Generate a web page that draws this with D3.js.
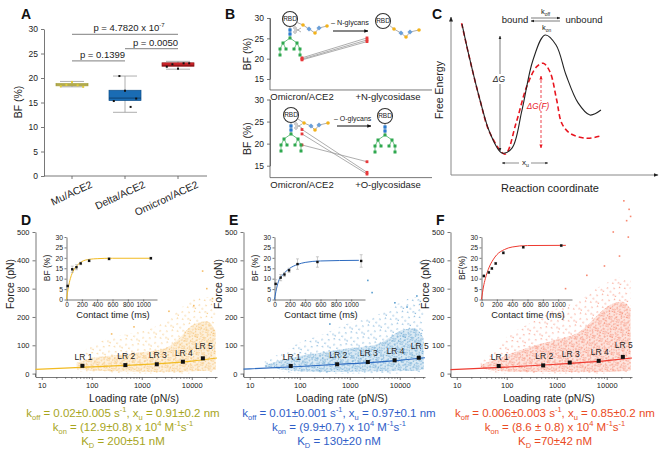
<!DOCTYPE html>
<html>
<head>
<meta charset="utf-8">
<script src="https://cdn.jsdelivr.net/npm/d3@7"></script>
<style>
  body { margin: 0; background: #fff; }
  text { font-family: "Liberation Sans", Arial, sans-serif; }
</style>
</head>
<body>
<div id="fig"></div>
<script>
// ---------- panel A data
var aCats = ["Mu/ACE2", "Delta/ACE2", "Omicron/ACE2"];
var aTicks = [0, 5, 10, 15, 20, 25, 30];
// [low whisker, q1, median, q3, high whisker]
var aBoxes = [[18.2, 18.4, 18.6, 18.9, 19.3], [13.0, 15.4, 15.9, 17.5, 20.4], [21.8, 22.4, 22.6, 23.1, 23.4]];
var aPoints = [[18.3, 18.6, 19.2, 18.5, 18.2], [15.3, 20.4, 17.4, 14.1, 15.8], [22.3, 22.8, 21.9, 23.0, 23.0]];
var aPvals = ["p = 0.1399", "p = 0.0050", "p = 4.7820 x 10"];
var aPvalLevels = [23.5, 26, 28.9];
var aPvalPairs = [[0, 1], [1, 2], [0, 2]];

// ---------- panel B data
var bTicks = [15, 20, 25, 30];
var bNGroups = ["Omicron/ACE2", "+N-glycosidase"];
var bNBefore = [20.2, 19.9, 19.7];
var bNAfter = [25.1, 24.6, 24.2];
var bOGroups = ["Omicron/ACE2", "+O-glycosidase"];
var bOBefore = [23.2, 22.2, 19.7];
var bOAfter = [13.5, 13.1, 15.9];

// ---------- panel C schematic curves (reaction coordinate, free energy; arbitrary units)
var cBlackX = [0.54, 0.93, 1.42, 1.91, 2.5, 2.99, 3.48, 4.02, 4.61, 5.15, 5.64, 6.23, 6.81, 7.35];
var cBlackY = [9.74, 7.42, 4.84, 2.71, 1.42, 1.74, 4.19, 7.42, 9.03, 8.39, 6.45, 4.65, 3.87, 4.19];
var cRedX = [0.52, 0.93, 1.42, 1.91, 2.65, 3.19, 3.71, 4.2, 4.52, 4.85, 5.18, 5.43, 5.83, 6.65, 7.34];
var cRedY = [9.79, 7.42, 4.84, 2.71, 1.35, 3.35, 5.7, 6.99, 7.21, 6.66, 4.84, 3.34, 2.69, 2.37, 2.52];

// ---------- panels D, E, F data
var lrNames = ["LR 1", "LR 2", "LR 3", "LR 4", "LR 5"];
var lrTicks = [10, 100, 1000, 10000];
var forceTicks = [0, 100, 200, 300, 400, 500];
var dLR = [65, 470, 2000, 6650, 16700];
var dForce = [27.5, 30, 33, 42, 54];
var eLR = [66, 560, 2300, 7900, 24000];
var eForce = [27, 33, 41, 47, 56];
var fLR = [69, 535, 1820, 6900, 21000];
var fForce = [27, 29, 39, 45, 59];

var fitLR = [7.5, 100, 1000, 10000, 32000];
var dFitF = [15, 24, 32, 44, 55];
var eFitF = [16, 25, 35, 47, 56];
var fFitF = [14, 23, 33, 46, 55];

// rupture force clouds: envelopes of the dense core and of the sparse halo
var dCloudLR = [50, 100, 300, 1000, 3000, 6000, 10000, 20000, 30000];
var dCoreLo = [18, 10, 8, 6, 6, 6, 8, 10, 14];
var dCoreHi = [38, 55, 65, 75, 90, 130, 170, 185, 150];
var dSparseLo = [12, 0, 0, 0, 0, 0, 0, 0, 5];
var dSparseHi = [60, 100, 130, 150, 185, 230, 260, 270, 260];
var dOutliers = [[16500, 362], [26000, 265], [11000, 240], [3500, 220], [700, 165], [250, 140], [20000, 300]];

var eCloudLR = [20, 40, 100, 300, 1000, 3000, 6000, 10000, 20000, 30000];
var eCoreLo = [25, 15, 8, 6, 6, 8, 8, 10, 10, 15];
var eCoreHi = [30, 45, 62, 75, 90, 100, 125, 150, 160, 125];
var eSparseLo = [15, 8, 0, 0, 0, 0, 0, 0, 0, 5];
var eSparseHi = [45, 70, 110, 140, 180, 200, 230, 250, 270, 260];
var eOutliers = [[26000, 392], [2300, 329], [2800, 286], [22000, 274], [14000, 235], [1100, 215], [400, 175], [8000, 250]];

var fCloudLR = [30, 50, 100, 300, 1000, 3000, 6000, 10000, 20000, 30000];
var fCoreLo = [20, 12, 8, 6, 6, 6, 6, 6, 8, 12];
var fCoreHi = [30, 45, 65, 95, 120, 150, 200, 235, 255, 230];
var fSparseLo = [12, 6, 0, 0, 0, 0, 0, 0, 0, 5];
var fSparseHi = [45, 70, 130, 180, 230, 260, 300, 320, 340, 330];
var fOutliers = [[13500, 500], [27000, 482], [18000, 415], [4000, 347], [22000, 610], [28000, 580],
                 [25000, 540], [30000, 555], [9000, 380], [1500, 300]];

// insets: binding frequency vs contact time
var insetTTicks = [0, 200, 400, 600, 800, 1000];
var insetBFTicks = [0, 5, 10, 15, 20, 25, 30];
var dT = [15, 75, 130, 185, 295, 555, 1100];
var dBF = [6.5, 14.5, 15.5, 17.3, 18.6, 19.5, 19.8];
var dErr = [0.8, 1.5, 1.2, 0.6, 0.5, 0.5, 0.5];
var eT = [15, 80, 130, 190, 300, 560, 1130];
var eBF = [7.5, 10.5, 12, 14, 17, 18, 18.5];
var eErr = [2, 1.5, 1, 1, 2.5, 2.5, 3];
var fT = [30, 95, 135, 185, 285, 545, 1040];
var fBF = [11.3, 13, 14.9, 17.3, 22.4, 25.1, 25.9];
var fErr = [0.6, 0.5, 0.5, 0.5, 0.6, 0.5, 0.5];
var fitT = [0, 25, 50, 100, 150, 200, 300, 400, 600, 1100];
var dFitBF = [0, 6, 10, 14.5, 16.8, 18.2, 19.3, 19.6, 19.8, 19.8];
var eFitBF = [0, 5, 8.5, 11.5, 13.5, 15, 16.8, 17.8, 18.5, 18.8];
var fFitBF = [0, 6, 10, 15.5, 19, 21.5, 24, 25.2, 25.9, 26];

var font = "'Liberation Sans', Arial, sans-serif";
var svg = d3.select("#fig").append("svg").attr("width", 666).attr("height", 460);
var defs = svg.append("defs");

function marker(id, color, size) {
  defs.append("marker").attr("id", id).attr("viewBox", "0 0 10 10")
    .attr("refX", 9).attr("refY", 5).attr("markerWidth", size).attr("markerHeight", size)
    .attr("orient", "auto-start-reverse")
    .append("path").attr("d", "M0,1 L10,5 L0,9 Z").attr("fill", color);
}
marker("arrK", "#222", 5);
marker("arrR", "#e8141e", 5);
marker("arrBig", "#111", 3.5);

function styleAxis(sel, size) {
  sel.selectAll("text").attr("font-size", size).attr("font-family", font).attr("fill", "#222");
  sel.selectAll("path,line").attr("stroke", "#555").attr("stroke-width", 0.8);
}

function richText(sel, parts, size) {
  var shift = 0;
  parts.forEach(function(p) {
    var t = sel.append("tspan").text(p[0]);
    var target = p[1] === "sub" ? size * 0.28 : p[1] === "sup" ? -size * 0.4 : 0;
    t.attr("dy", target - shift);
    shift = target;
    if (p[1]) t.attr("font-size", size * 0.65);
  });
}

function letter(txt, x, y) {
  svg.append("text").attr("x", x).attr("y", y).attr("font-size", 14).attr("font-weight", "bold")
    .attr("fill", "#111").text(txt);
}

// ================= A =================
letter("A", 21, 19);
var aX = d3.scalePoint().domain(aCats).range([72, 178]);
var aY = d3.scaleLinear().domain([0, 30]).range([176, 29]);
var gA = svg.append("g");
gA.append("g").attr("transform", "translate(44,0)")
  .call(d3.axisLeft(aY).tickValues(aTicks).tickSize(3).tickSizeOuter(0))
  .call(styleAxis, 8.5);
gA.append("line").attr("x1", 44).attr("x2", 207).attr("y1", 176).attr("y2", 176)
  .attr("stroke", "#555").attr("stroke-width", 0.8);
gA.selectAll(".ct").data(aCats).enter().append("line")
  .attr("x1", d => aX(d)).attr("x2", d => aX(d)).attr("y1", 176).attr("y2", 179)
  .attr("stroke", "#555").attr("stroke-width", 0.8);
gA.selectAll(".cl").data(aCats).enter().append("text")
  .attr("transform", d => "translate(" + (aX(d) + 21) + ",187) rotate(-25)")
  .attr("text-anchor", "end").attr("font-size", 10.3).attr("fill", "#222").text(d => d);
gA.append("text").attr("transform", "translate(22,102) rotate(-90)").attr("text-anchor", "middle")
  .attr("font-size", 10.5).attr("fill", "#222").text("BF (%)");

var aFill = ["#e4dc8c", "#1a6cb4", "#d8262c"];
var aStroke = ["#a39c3c", "#0e4f8a", "#8a1416"];
var aMed = ["#8c8620", "#0d3d6b", "#7a1012"];
var aDot = ["#e0cc3a", "#111", "#111"];
var boxW = 32;
aBoxes.forEach(function(b, i) {
  var cx = aX(aCats[i]);
  var g = gA.append("g");
  g.append("line").attr("x1", cx).attr("x2", cx).attr("y1", aY(b[0])).attr("y2", aY(b[4]))
    .attr("stroke", "#999").attr("stroke-width", 0.8);
  [b[0], b[4]].forEach(function(v) {
    g.append("line").attr("x1", cx - 12).attr("x2", cx + 12).attr("y1", aY(v)).attr("y2", aY(v))
      .attr("stroke", "#999").attr("stroke-width", 0.8);
  });
  g.append("rect").attr("x", cx - boxW / 2).attr("width", boxW)
    .attr("y", aY(b[3])).attr("height", aY(b[1]) - aY(b[3]))
    .attr("fill", aFill[i]).attr("stroke", aStroke[i]).attr("stroke-width", 0.7);
  g.append("line").attr("x1", cx - boxW / 2).attr("x2", cx + boxW / 2)
    .attr("y1", aY(b[2])).attr("y2", aY(b[2])).attr("stroke", aMed[i]).attr("stroke-width", 0.9);
  var n = aPoints[i].length;
  aPoints[i].forEach(function(v, j) {
    var px = cx - boxW * 0.35 + boxW * 0.7 * j / (n - 1);
    g.append("rect").attr("x", px - 1).attr("y", aY(v) - 1).attr("width", 2).attr("height", 2)
      .attr("fill", aDot[i]);
  });
});
aPvals.forEach(function(t, i) {
  var x1 = aX(aCats[aPvalPairs[i][0]]), x2 = aX(aCats[aPvalPairs[i][1]]);
  var yy = aY(aPvalLevels[i]);
  gA.append("line").attr("x1", x1).attr("x2", x2).attr("y1", yy).attr("y2", yy)
    .attr("stroke", "#999").attr("stroke-width", 1.1);
  var tx = gA.append("text").attr("x", (x1 + x2) / 2 + 4).attr("y", yy - 3)
    .attr("text-anchor", "middle").attr("font-size", 9.5).attr("fill", "#222").text(t);
  if (i === 2) tx.append("tspan").attr("dy", -4).attr("font-size", 6).text("-7");
});

// ================= B =================
letter("B", 225, 19);
function glycanTree(g, cx, cy) {
  // blue stem + green branched tree under an RBD circle
  var green = "#2fa84f", blue = "#2a7bd0";
  var nodes = [[cx, cy + 19], [cx - 7, cy + 24], [cx + 7, cy + 24], [cx - 10, cy + 30], [cx - 4, cy + 30],
               [cx + 4, cy + 30], [cx + 10, cy + 30], [cx - 10, cy + 36], [cx + 10, cy + 36]];
  var links = [[0, 1], [0, 2], [1, 3], [1, 4], [2, 5], [2, 6], [3, 7], [6, 8]];
  g.append("line").attr("x1", cx).attr("x2", cx).attr("y1", cy + 8).attr("y2", cy + 19)
    .attr("stroke", "#555").attr("stroke-width", 0.6);
  links.forEach(function(l) {
    g.append("line").attr("x1", nodes[l[0]][0]).attr("y1", nodes[l[0]][1])
      .attr("x2", nodes[l[1]][0]).attr("y2", nodes[l[1]][1]).attr("stroke", green).attr("stroke-width", 0.7);
  });
  [cy + 11, cy + 15].forEach(function(yy) {
    g.append("rect").attr("x", cx - 1.6).attr("y", yy - 1.6).attr("width", 3.2).attr("height", 3.2).attr("fill", blue);
  });
  nodes.forEach(function(n) {
    g.append("rect").attr("x", n[0] - 1.5).attr("y", n[1] - 1.5).attr("width", 3).attr("height", 3).attr("fill", green);
  });
}
function glycanChain(g, pts) {
  var line = d3.line();
  g.append("path").attr("d", line(pts)).attr("fill", "none").attr("stroke", "#777").attr("stroke-width", 0.6);
  pts.slice(1).forEach(function(p, i) {
    if (i % 2 === 0) {
      g.append("circle").attr("cx", p[0]).attr("cy", p[1]).attr("r", 1.8).attr("fill", "#f2b21b");
    } else {
      g.append("rect").attr("x", p[0] - 1.8).attr("y", p[1] - 1.8).attr("width", 3.6).attr("height", 3.6)
        .attr("transform", "rotate(45," + p[0] + "," + p[1] + ")").attr("fill", "#6a9fd8");
    }
  });
}
function rbd(g, cx, cy) {
  g.append("circle").attr("cx", cx).attr("cy", cy).attr("r", 7.5).attr("fill", "#fff")
    .attr("stroke", "#333").attr("stroke-width", 1.1);
  g.append("text").attr("x", cx).attr("y", cy + 2.3).attr("text-anchor", "middle")
    .attr("font-size", 6.5).attr("fill", "#222").text("RBD");
}
function scissors(g, cx, cy) {
  g.append("circle").attr("cx", cx - 2).attr("cy", cy - 2).attr("r", 1.3).attr("fill", "none").attr("stroke", "#666").attr("stroke-width", 0.5);
  g.append("circle").attr("cx", cx - 2).attr("cy", cy + 2).attr("r", 1.3).attr("fill", "none").attr("stroke", "#666").attr("stroke-width", 0.5);
  g.append("path").attr("d", "M" + (cx - 1) + "," + (cy - 1) + " L" + (cx + 4) + "," + (cy + 2) +
    " M" + (cx - 1) + "," + (cy + 1) + " L" + (cx + 4) + "," + (cy - 2)).attr("stroke", "#666").attr("stroke-width", 0.5);
}

function drawPair(top, bottom, groups, before, after, label) {
  var g = svg.append("g");
  var y = d3.scaleLinear().domain([30, 15]).range([top, bottom]);
  var x = d3.scalePoint().domain(groups).range([302, 367]);
  var yBase = bottom + (bottom - top) * 0.18;
  g.append("g").attr("transform", "translate(270,0)")
    .call(d3.axisLeft(y).tickValues(bTicks).tickSize(3).tickSizeOuter(0)).call(styleAxis, 8.5);
  g.append("line").attr("x1", 270).attr("x2", 270).attr("y1", top).attr("y2", yBase).attr("stroke", "#555").attr("stroke-width", 0.8);
  g.append("line").attr("x1", 270).attr("x2", 432).attr("y1", yBase).attr("y2", yBase).attr("stroke", "#555").attr("stroke-width", 0.8);
  g.append("text").attr("transform", "translate(" + 251 + "," + ((top + yBase) / 2) + ") rotate(-90)")
    .attr("text-anchor", "middle").attr("font-size", 10.5).attr("fill", "#222").text(label);
  g.append("text").attr("x", 302).attr("y", yBase + 10).attr("text-anchor", "middle")
    .attr("font-size", 9.5).attr("fill", "#222").text(groups[0]);
  g.append("text").attr("x", 388).attr("y", yBase + 10).attr("text-anchor", "middle")
    .attr("font-size", 9.5).attr("fill", "#222").text(groups[1]);
  before.forEach(function(v, i) {
    g.append("line").attr("x1", x(groups[0])).attr("x2", x(groups[1])).attr("y1", y(v)).attr("y2", y(after[i]))
      .attr("stroke", "#999").attr("stroke-width", 0.8);
  });
  before.concat(after).forEach(function(v, i) {
    var px = i < before.length ? x(groups[0]) : x(groups[1]);
    g.append("rect").attr("x", px - 1.4).attr("y", y(v) - 1.4).attr("width", 2.8).attr("height", 2.8).attr("fill", "#e8393a");
  });
  return g;
}
var gBt = drawPair(18, 79, bNGroups, bNBefore, bNAfter, "BF (%)");
var gBb = drawPair(99.5, 165.7, bOGroups, bOBefore, bOAfter, "BF (%)");

// N-glycan cartoon
rbd(gBt, 290, 19);
glycanTree(gBt, 290, 19);
scissors(gBt, 297, 30);
glycanChain(gBt, [[296, 22], [303, 25], [309, 29], [315, 33], [319, 28], [327, 26]]);
gBt.append("text").attr("x", 331).attr("y", 25).attr("font-size", 7.2).attr("fill", "#222").text("– N-glycans");
gBt.append("line").attr("x1", 333).attr("x2", 368).attr("y1", 31).attr("y2", 31)
  .attr("stroke", "#111").attr("stroke-width", 1.2).attr("marker-end", "url(#arrBig)");
rbd(gBt, 383, 21);
glycanChain(gBt, [[389, 25], [394, 29], [401, 33], [406, 37], [410, 32], [419, 30]]);

// O-glycan cartoon
rbd(gBb, 291, 115);
glycanTree(gBb, 291, 115);
scissors(gBb, 298, 126);
glycanChain(gBb, [[298, 119], [304, 123], [311, 126], [315, 130], [319, 125], [328, 123]]);
gBb.append("text").attr("x", 334).attr("y", 121).attr("font-size", 7).attr("fill", "#222").text("– O-glycans");
gBb.append("line").attr("x1", 337).attr("x2", 371).attr("y1", 126).attr("y2", 126)
  .attr("stroke", "#111").attr("stroke-width", 1.2).attr("marker-end", "url(#arrBig)");
rbd(gBb, 385, 116);
glycanTree(gBb, 385, 116);

// ================= C =================
letter("C", 432, 19);
var cX = d3.scaleLinear().domain([0, 10]).range([451, 655]);
var cY = d3.scaleLinear().domain([0, 10]).range([175, 20]);
var gC = svg.append("g");
gC.append("line").attr("x1", 451).attr("x2", 451).attr("y1", 175).attr("y2", 17)
  .attr("stroke", "#888").attr("stroke-width", 1).attr("marker-end", "url(#arrK)");
gC.append("line").attr("x1", 451).attr("x2", 658).attr("y1", 175).attr("y2", 175)
  .attr("stroke", "#888").attr("stroke-width", 1).attr("marker-end", "url(#arrK)");
gC.append("text").attr("transform", "translate(443,90) rotate(-90)").attr("text-anchor", "middle")
  .attr("font-size", 10.5).attr("fill", "#222").text("Free Energy");
gC.append("text").attr("x", 550).attr("y", 192).attr("text-anchor", "middle")
  .attr("font-size", 11).attr("fill", "#222").text("Reaction coordinate");
var cLine = d3.line().curve(d3.curveCatmullRom).x(d => cX(d[0])).y(d => cY(d[1]));
gC.append("path").datum(cRedX.map((v, i) => [v, cRedY[i]])).attr("d", cLine)
  .attr("fill", "none").attr("stroke", "#e8141e").attr("stroke-width", 1.6).attr("stroke-dasharray", "5,3");
gC.append("path").datum(cBlackX.map((v, i) => [v, cBlackY[i]])).attr("d", cLine)
  .attr("fill", "none").attr("stroke", "#222").attr("stroke-width", 1.1);
// Delta G arrow
gC.append("line").attr("x1", 500).attr("x2", 500).attr("y1", 151).attr("y2", 36)
  .attr("stroke", "#444").attr("stroke-width", 0.7).attr("marker-start", "url(#arrK)").attr("marker-end", "url(#arrK)");
gC.append("rect").attr("x", 492).attr("y", 74).attr("width", 14).attr("height", 10).attr("fill", "#fff");
gC.append("text").attr("x", 499).attr("y", 82).attr("text-anchor", "middle").attr("font-size", 8.5)
  .attr("font-style", "italic").attr("fill", "#222").text("ΔG");
// Delta G(F) arrow
gC.append("line").attr("x1", 541).attr("x2", 541).attr("y1", 148).attr("y2", 76)
  .attr("stroke", "#e8141e").attr("stroke-width", 0.8).attr("stroke-dasharray", "3,2")
  .attr("marker-start", "url(#arrR)").attr("marker-end", "url(#arrR)");
gC.append("rect").attr("x", 527).attr("y", 101).attr("width", 22).attr("height", 10).attr("fill", "#fff");
gC.append("text").attr("x", 538).attr("y", 109).attr("text-anchor", "middle").attr("font-size", 8.2)
  .attr("font-style", "italic").attr("fill", "#e8141e").text("ΔG(F)");
// x_u
gC.append("line").attr("x1", 519).attr("x2", 502).attr("y1", 163).attr("y2", 163)
  .attr("stroke", "#444").attr("stroke-width", 0.6).attr("marker-end", "url(#arrK)");
gC.append("line").attr("x1", 531).attr("x2", 548).attr("y1", 163).attr("y2", 163)
  .attr("stroke", "#444").attr("stroke-width", 0.6).attr("marker-end", "url(#arrK)");
richText(gC.append("text").attr("x", 522).attr("y", 165).attr("font-size", 8).attr("fill", "#222"),
  [["x"], ["u", "sub"]], 8);
// bound / unbound
gC.append("text").attr("x", 515).attr("y", 23).attr("text-anchor", "middle").attr("font-size", 9.5).attr("fill", "#222").text("bound");
gC.append("text").attr("x", 584).attr("y", 23).attr("text-anchor", "middle").attr("font-size", 9.5).attr("fill", "#222").text("unbound");
gC.append("line").attr("x1", 531).attr("x2", 560).attr("y1", 18).attr("y2", 18)
  .attr("stroke", "#444").attr("stroke-width", 0.7).attr("marker-end", "url(#arrK)");
gC.append("line").attr("x1", 560).attr("x2", 531).attr("y1", 21).attr("y2", 21)
  .attr("stroke", "#444").attr("stroke-width", 0.7).attr("marker-end", "url(#arrK)");
richText(gC.append("text").attr("x", 541).attr("y", 14).attr("font-size", 7.5).attr("fill", "#222"),
  [["k"], ["off", "sub"]], 7.5);
richText(gC.append("text").attr("x", 542).attr("y", 30).attr("font-size", 7.5).attr("fill", "#222"),
  [["k"], ["on", "sub"]], 7.5);

// ================= D, E, F =================
// dot textures that stand in for the individual rupture events
function pattern(id, color, size, dots, dot, opacity) {
  var p = defs.append("pattern").attr("id", id).attr("patternUnits", "userSpaceOnUse")
    .attr("width", size).attr("height", size).attr("patternTransform", "rotate(23)");
  dots.forEach(function(d) {
    p.append("rect").attr("x", d[0]).attr("y", d[1]).attr("width", dot).attr("height", dot)
      .attr("fill", color).attr("fill-opacity", opacity);
  });
}
var denseDots = [[0.5, 0.5], [3.6, 1.4], [1.7, 3.5], [5.0, 4.3], [6.6, 0.9], [0.4, 6.2], [3.9, 6.6], [6.4, 6.8]];
var sparseDots = [[1, 2], [6.2, 0.8], [9.4, 5.1], [3.1, 7.4], [7.3, 9.6], [11.2, 11.3], [0.6, 11.8]];

function drawForce(p) {
  letter(p.letter, p.dx + 21, 225);
  pattern("dn-" + p.id, p.cloud, 8, denseDots, 1.2, 0.9);
  pattern("sp-" + p.id, p.cloud, 13, sparseDots, 1.2, 0.85);
  var g = svg.append("g").attr("transform", "translate(" + p.dx + ",0)");
  var x = d3.scaleLog().domain([7.5, 32000]).range([35.5, 217]);
  var y = d3.scaleLinear().domain([-12, 500]).range([377, 232]);

  var area = d3.area().curve(d3.curveMonotoneX).x(d => x(d[0])).y0(d => y(d[1])).y1(d => y(d[2]));
  var sparse = p.cloudLR.map((v, i) => [v, p.sparseLo[i], p.sparseHi[i]]);
  var core = p.cloudLR.map((v, i) => [v, p.coreLo[i], p.coreHi[i]]);
  g.append("path").datum(sparse).attr("d", area).attr("fill", "url(#sp-" + p.id + ")");
  g.append("path").datum(core).attr("d", area).attr("fill", p.cloud).attr("fill-opacity", 0.22);
  g.append("path").datum(core).attr("d", area).attr("fill", "url(#dn-" + p.id + ")");
  g.selectAll(".out").data(p.outliers).enter().append("rect")
    .attr("x", d => x(d[0]) - 0.8).attr("y", d => y(d[1]) - 0.8).attr("width", 1.6).attr("height", 1.6)
    .attr("fill", p.cloud);

  // axes
  g.append("g").attr("transform", "translate(" + x.range()[0] + ",0)")
    .call(d3.axisLeft(y).tickValues(forceTicks).tickSize(3).tickSizeOuter(0)).call(styleAxis, 7.5);
  g.append("line").attr("x1", x.range()[0]).attr("x2", x.range()[0]).attr("y1", y(0)).attr("y2", 377)
    .attr("stroke", "#555").attr("stroke-width", 0.8);
  g.append("g").attr("transform", "translate(0,377)")
    .call(d3.axisBottom(x).tickValues(lrTicks).tickFormat(d3.format("d")).tickSize(3).tickSizeOuter(0))
    .call(styleAxis, 7.5);
  var minor = [];
  lrTicks.forEach(function(t) { for (var k = 2; k < 10; k++) if (t * k < 32000) minor.push(t * k); });
  g.selectAll(".mn").data(minor).enter().append("line")
    .attr("x1", d => x(d)).attr("x2", d => x(d)).attr("y1", 377).attr("y2", 379)
    .attr("stroke", "#555").attr("stroke-width", 0.6);
  g.append("text").attr("transform", "translate(14,284) rotate(-90)").attr("text-anchor", "middle")
    .attr("font-size", 10.5).attr("fill", "#222").text("Force (pN)");
  g.append("text").attr("x", 134).attr("y", 402).attr("text-anchor", "middle")
    .attr("font-size", 10.5).attr("fill", "#222").text(p.xlabel);

  // fit and LR means
  var fitLine = d3.line().x(d => x(d[0])).y(d => y(d[1])).curve(d3.curveMonotoneX);
  g.append("path").datum(fitLR.map((v, i) => [v, p.fitF[i]])).attr("d", fitLine)
    .attr("fill", "none").attr("stroke", p.fit).attr("stroke-width", 1.2);
  p.lr.forEach(function(v, i) {
    g.append("rect").attr("x", x(v) - 2).attr("y", y(p.force[i]) - 2).attr("width", 4).attr("height", 4).attr("fill", "#111");
    g.append("text").attr("x", x(v) + 1).attr("y", y(p.force[i]) - (i === 4 ? 9 : 6))
      .attr("text-anchor", "middle").attr("font-size", 8.5).attr("fill", "#222").text(lrNames[i]);
  });

  // inset
  var xi = d3.scaleLinear().domain([0, 1180]).range([66.5, 157]);
  var yi = d3.scaleLinear().domain([0, 30]).range([299.5, 237]);
  g.append("g").attr("transform", "translate(66.5,0)")
    .call(d3.axisLeft(yi).tickValues(insetBFTicks).tickSize(2).tickPadding(1.5).tickSizeOuter(0)).call(styleAxis, 6.8);
  g.append("g").attr("transform", "translate(0,299.5)")
    .call(d3.axisBottom(xi).tickValues(insetTTicks).tickFormat(d3.format("d")).tickSize(2).tickPadding(1)
      .tickSizeOuter(0)).call(styleAxis, 6.5);
  g.append("text").attr("transform", "translate(50,268) rotate(-90)").attr("text-anchor", "middle")
    .attr("font-size", 8.5).attr("fill", "#222").text(p.inLabel);
  g.append("text").attr("x", 113).attr("y", 318).attr("text-anchor", "middle")
    .attr("font-size", 9.3).attr("fill", "#222").text("Contact time (ms)");
  var iLine = d3.line().curve(d3.curveMonotoneX).x(d => xi(d[0])).y(d => yi(d[1]));
  g.append("path").datum(fitT.map((v, i) => [v, p.fitBF[i]])).attr("d", iLine)
    .attr("fill", "none").attr("stroke", p.fit).attr("stroke-width", 1);
  p.t.forEach(function(v, i) {
    var cx = xi(v);
    g.append("line").attr("x1", cx).attr("x2", cx).attr("y1", yi(p.bf[i] - p.err[i])).attr("y2", yi(p.bf[i] + p.err[i]))
      .attr("stroke", "#aaa").attr("stroke-width", 0.6);
    [p.bf[i] - p.err[i], p.bf[i] + p.err[i]].forEach(function(e) {
      g.append("line").attr("x1", cx - 1.5).attr("x2", cx + 1.5).attr("y1", yi(e)).attr("y2", yi(e))
        .attr("stroke", "#aaa").attr("stroke-width", 0.6);
    });
    g.append("rect").attr("x", cx - 1.2).attr("y", yi(p.bf[i]) - 1.2).attr("width", 2.4).attr("height", 2.4).attr("fill", "#111");
  });

  // kinetic parameters
  [417, 431, 445].forEach(function(yy, k) {
    richText(svg.append("text").attr("x", p.textX).attr("y", yy).attr("text-anchor", "middle")
      .attr("font-size", 11.5).attr("fill", p.text), p.lines[k], 11.5);
  });
}

drawForce({
  id: "d", letter: "D", dx: 0, textX: 123, xlabel: "Loading rate (pN/s)", inLabel: "BF (%)",
  cloud: "#f5bd68", fit: "#f2bb22", text: "#a7a51c",
  cloudLR: dCloudLR, coreLo: dCoreLo, coreHi: dCoreHi, sparseLo: dSparseLo, sparseHi: dSparseHi, outliers: dOutliers,
  lr: dLR, force: dForce, fitF: dFitF, t: dT, bf: dBF, err: dErr, fitBF: dFitBF,
  lines: [
    [["k"], ["off", "sub"], [" = 0.02±0.005 s"], ["-1", "sup"], [", x"], ["u", "sub"], [" = 0.91±0.2 nm"]],
    [["k"], ["on", "sub"], [" = (12.9±0.8) x 10"], ["4", "sup"], [" M"], ["-1", "sup"], ["s"], ["-1", "sup"]],
    [["K"], ["D", "sub"], [" = 200±51 nM"]]
  ]
});
drawForce({
  id: "e", letter: "E", dx: 208, textX: 339, xlabel: "Loading rate (pN/S)", inLabel: "BF (%)",
  cloud: "#5a9ecf", fit: "#2d6bc0", text: "#2f5ec8",
  cloudLR: eCloudLR, coreLo: eCoreLo, coreHi: eCoreHi, sparseLo: eSparseLo, sparseHi: eSparseHi, outliers: eOutliers,
  lr: eLR, force: eForce, fitF: eFitF, t: eT, bf: eBF, err: eErr, fitBF: eFitBF,
  lines: [
    [["k"], ["off", "sub"], [" = 0.01±0.001 s"], ["-1", "sup"], [", x"], ["u", "sub"], [" = 0.97±0.1 nm"]],
    [["k"], ["on", "sub"], [" = (9.9±0.7) x 10"], ["4", "sup"], [" M"], ["-1", "sup"], ["s"], ["-1", "sup"]],
    [["K"], ["D", "sub"], [" = 130±20 nM"]]
  ]
});
drawForce({
  id: "f", letter: "F", dx: 415, textX: 555, xlabel: "Loading rate (pN/S)", inLabel: "BF(%)",
  cloud: "#f7876f", fit: "#ee3a30", text: "#ea4b24",
  cloudLR: fCloudLR, coreLo: fCoreLo, coreHi: fCoreHi, sparseLo: fSparseLo, sparseHi: fSparseHi, outliers: fOutliers,
  lr: fLR, force: fForce, fitF: fFitF, t: fT, bf: fBF, err: fErr, fitBF: fFitBF,
  lines: [
    [["k"], ["off", "sub"], [" = 0.006±0.003 s"], ["-1", "sup"], [", x"], ["u", "sub"], [" = 0.85±0.2 nm"]],
    [["k"], ["on", "sub"], [" = (8.6 ± 0.8) x 10"], ["4", "sup"], [" M"], ["-1", "sup"], ["s"], ["-1", "sup"]],
    [["K"], ["D", "sub"], [" =70±42 nM"]]
  ]
});
</script>
</body>
</html>
